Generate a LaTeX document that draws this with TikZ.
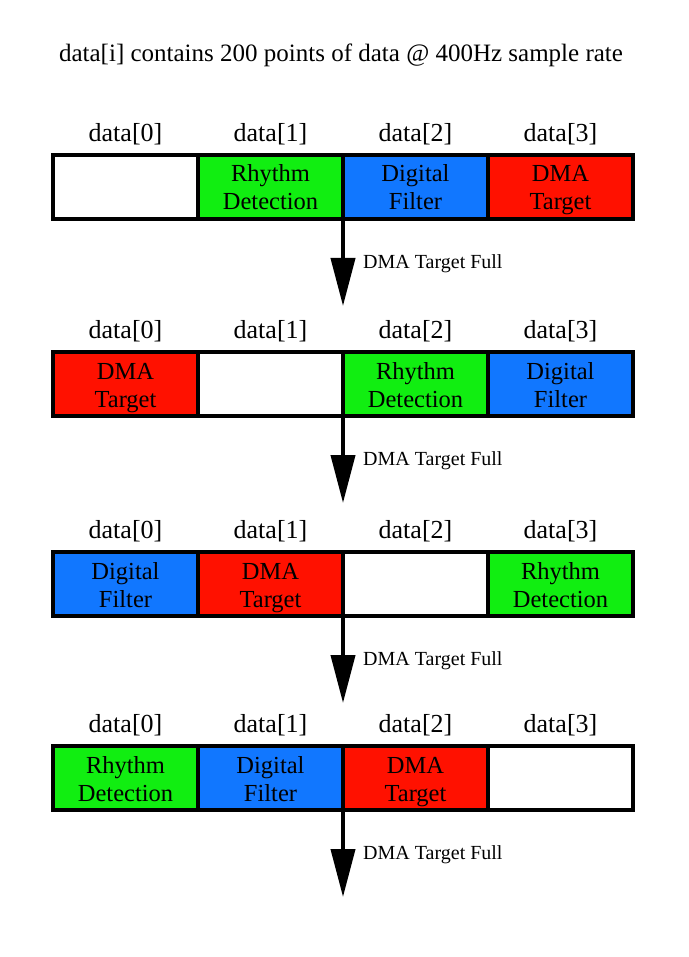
\documentclass[tikz,border=0pt]{standalone}
\usepackage{fontspec}
\setmainfont{Liberation Serif}
\usepackage{xcolor}
\usepackage{tikz}
\usetikzlibrary{arrows.meta, positioning}
\definecolor{rhythmgreen}{RGB}{17,238,17}
\definecolor{filterblue}{RGB}{17,119,255}
\definecolor{dmared}{RGB}{255,17,0}

\begin{document}
\begin{tikzpicture}[x=1pt, y=-1pt,
        cell/.style={draw, line width=4pt, rectangle, minimum width=145pt, minimum height=64pt, outer sep=0pt, inner sep=0pt, align=center, font=\fontsize{24.5}{28}\selectfont, execute at begin node={\rule{0pt}{52pt}}, execute at end node={\rule[-6pt]{0pt}{6pt}}},
        idle/.style={cell, fill=white},
        rhythm/.style={cell, fill=rhythmgreen},
        filt/.style={cell, fill=filterblue},
        dma/.style={cell, fill=dmared},
        hdr/.style={inner sep=0pt, font=\fontsize{26}{30}\selectfont},
        lbl/.style={inner sep=0pt, font=\fontsize{20}{24}\selectfont},
        arrow/.style={line width=4pt, -{Triangle[length=48pt, width=24pt]}}
    ]
        \useasboundingbox (0,0) rectangle (688,957);
        \node (title) [font=\fontsize{25}{30}\selectfont] at (341,55) {data[i] contains 200 points of data @ 400Hz sample rate};

        % buffer state 1
        \node (c10) [idle] at (125.5,187) {};
        \node (c11) [rhythm, right=0pt of c10] {Rhythm\\Detection};
        \node (c12) [filt, right=0pt of c11] {Digital\\Filter};
        \node (c13) [dma, right=0pt of c12] {DMA\\Target};
        \node (h10) [hdr, above=10pt of c10] {data[0]};
        \node (h11) [hdr, above=10pt of c11] {data[1]};
        \node (h12) [hdr, above=10pt of c12] {data[2]};
        \node (h13) [hdr, above=10pt of c13] {data[3]};
        \coordinate[below=87pt of c11.south east] (e1);
        \draw [arrow] (c11.south east) -- (e1);
        \node (t1) [lbl, below right=35pt and 20pt of c11.south east] {DMA Target Full};

        % buffer state 2
        \node (c20) [dma] at (125.5,384) {DMA\\Target};
        \node (c21) [idle, right=0pt of c20] {};
        \node (c22) [rhythm, right=0pt of c21] {Rhythm\\Detection};
        \node (c23) [filt, right=0pt of c22] {Digital\\Filter};
        \node (h20) [hdr, above=10pt of c20] {data[0]};
        \node (h21) [hdr, above=10pt of c21] {data[1]};
        \node (h22) [hdr, above=10pt of c22] {data[2]};
        \node (h23) [hdr, above=10pt of c23] {data[3]};
        \coordinate[below=87pt of c21.south east] (e2);
        \draw [arrow] (c21.south east) -- (e2);
        \node (t2) [lbl, below right=35pt and 20pt of c21.south east] {DMA Target Full};

        % buffer state 3
        \node (c30) [filt] at (125.5,584) {Digital\\Filter};
        \node (c31) [dma, right=0pt of c30] {DMA\\Target};
        \node (c32) [idle, right=0pt of c31] {};
        \node (c33) [rhythm, right=0pt of c32] {Rhythm\\Detection};
        \node (h30) [hdr, above=10pt of c30] {data[0]};
        \node (h31) [hdr, above=10pt of c31] {data[1]};
        \node (h32) [hdr, above=10pt of c32] {data[2]};
        \node (h33) [hdr, above=10pt of c33] {data[3]};
        \coordinate[below=87pt of c31.south east] (e3);
        \draw [arrow] (c31.south east) -- (e3);
        \node (t3) [lbl, below right=35pt and 20pt of c31.south east] {DMA Target Full};

        % buffer state 4
        \node (c40) [rhythm] at (125.5,778) {Rhythm\\Detection};
        \node (c41) [filt, right=0pt of c40] {Digital\\Filter};
        \node (c42) [dma, right=0pt of c41] {DMA\\Target};
        \node (c43) [idle, right=0pt of c42] {};
        \node (h40) [hdr, above=10pt of c40] {data[0]};
        \node (h41) [hdr, above=10pt of c41] {data[1]};
        \node (h42) [hdr, above=10pt of c42] {data[2]};
        \node (h43) [hdr, above=10pt of c43] {data[3]};
        \coordinate[below=87pt of c41.south east] (e4);
        \draw [arrow] (c41.south east) -- (e4);
        \node (t4) [lbl, below right=35pt and 20pt of c41.south east] {DMA Target Full};
    \end{tikzpicture}
\end{document}
